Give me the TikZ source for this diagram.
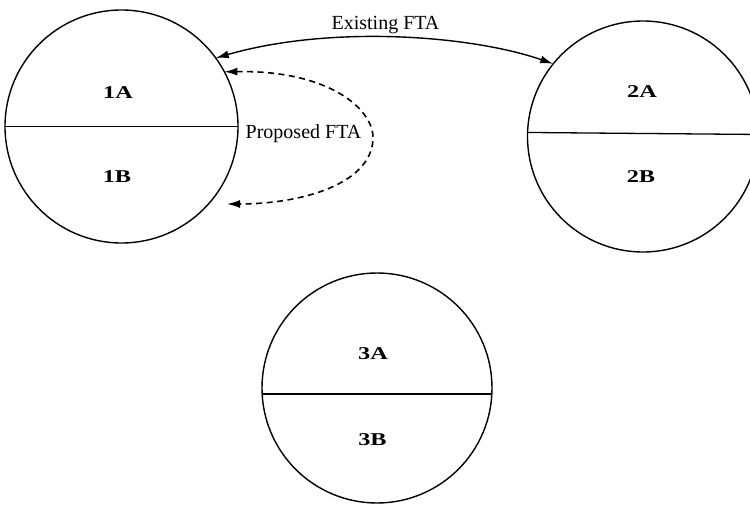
\documentclass[tikz,border=0pt]{standalone}
\usepackage{fontspec}
\setmainfont{Liberation Serif}
\usetikzlibrary{arrows.meta}
\tikzset{
  part/.style={draw, circle, line width=1.4pt, minimum size=#1, inner sep=0pt, outer sep=0pt},
  divider/.style={line width=1.3pt},
  lab/.style={anchor=base, inner sep=0pt, font=\fontsize{18}{20}\selectfont\bfseries},
  flabel/.style={anchor=base, inner sep=0pt, font=\fontsize{20}{22}\selectfont},
  fta/.style={line width=1.4pt, {Latex[length=13pt,width=8pt]}-{Latex[length=13pt,width=8pt]}},
  proposed/.style={fta, line width=1.6pt, dash pattern=on 6pt off 4.5pt}
}
\newcommand{\widelab}[1]{\scalebox{1.35}[1]{#1}}
\begin{document}
\begin{tikzpicture}[x=1pt,y=-1pt]
\useasboundingbox (0,0) rectangle (750,505);
% circles
\node[part=233pt] (c1) at (121.5,126.5) {};
\node[part=231pt] (c2) at (643,136.5) {};
\node[part=230pt] (c3) at (377,388) {};
% dividers
\draw[divider] (c1.180) -- (c1.0);
\draw[divider] (c2.178.3) -- (c2.1.7);
\draw[divider] (c3.183) -- (c3.-3);
% labels
\node[lab] (l1a) at (118,98.5) {\widelab{1A}};
\node[lab] (l1b) at (117,182.5) {\widelab{1B}};
\node[lab] (l2a) at (642,98) {\widelab{2A}};
\node[lab] (l2b) at (641,183) {\widelab{2B}};
\node[lab] (l3a) at (373,359) {\widelab{3A}};
\node[lab] (l3b) at (372.5,445) {\widelab{3B}};
% existing FTA
\draw[fta] (c1.36) .. controls (330,25) and (470,35) .. (c2.141);
\node[flabel] (ex) at (385.5,30) {Existing FTA};
% proposed FTA
\coordinate (pe) at (227,204);
\draw[proposed] (c1.28) .. controls (330,70) and (375,110) .. (373,140)
  .. controls (370,185) and (300,204) .. (pe);
\node[flabel] (pr) at (303.5,139) {Proposed FTA};
\end{tikzpicture}
\end{document}
